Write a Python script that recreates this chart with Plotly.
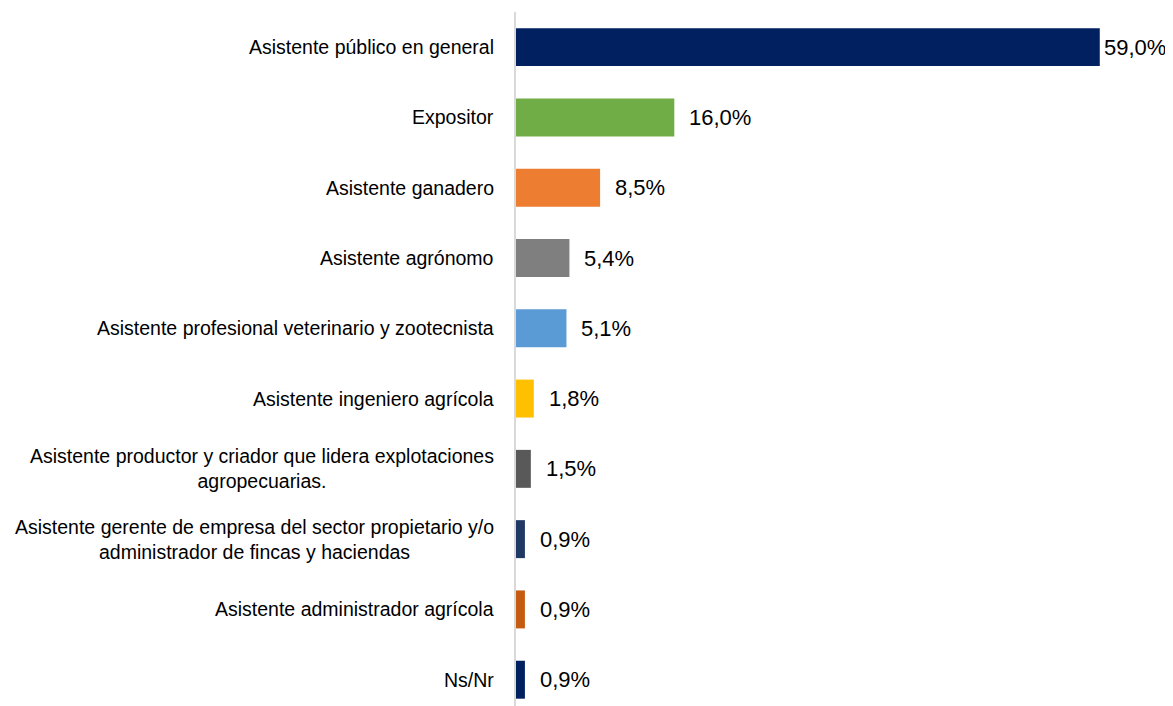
import plotly.graph_objects as go

categories = [
    "Asistente público en general",
    "Expositor",
    "Asistente ganadero",
    "Asistente agrónomo",
    "Asistente profesional veterinario y zootecnista",
    "Asistente ingeniero agrícola",
    "Asistente productor y criador que lidera explotaciones<br>agropecuarias.",
    "Asistente gerente de empresa del sector propietario y/o<br>administrador de fincas y haciendas",
    "Asistente administrador agrícola",
    "Ns/Nr",
]
values = [59.0, 16.0, 8.5, 5.4, 5.1, 1.8, 1.5, 0.9, 0.9, 0.9]
value_labels = ["59,0%", "16,0%", "8,5%", "5,4%", "5,1%", "1,8%", "1,5%", "0,9%", "0,9%", "0,9%"]
colors = ["#002060", "#70AD47", "#ED7D31", "#7F7F7F", "#5B9BD5",
          "#FFC000", "#595959", "#203864", "#C55A11", "#002060"]

FONT = "Liberation Sans, Arial, sans-serif"

ids = list(range(len(categories)))

fig = go.Figure()
fig.add_trace(go.Bar(
    x=values, y=ids, orientation="h",
    marker=dict(color=colors, line=dict(width=0)),
    width=0.54, hoverinfo="skip",
))

annotations = []
for i, (cat, v, lab) in enumerate(zip(categories, values, value_labels)):
    annotations.append(dict(
        x=0, y=i, xref="x", yref="y", text=cat, showarrow=False,
        xanchor="right", yanchor="middle", align="center", xshift=-20,
        font=dict(family=FONT, size=19.5, color="#000000"),
    ))
    annotations.append(dict(
        x=v, y=i, xref="x", yref="y", text=lab, showarrow=False,
        xanchor="left", yanchor="middle", xshift=13 if v < 50 else 2,
        font=dict(family=FONT, size=22, color="#000000"),
    ))

# page body has an 8px margin, so the figure is drawn 8px smaller/offset
fig.update_layout(
    width=1165, height=698,
    margin=dict(l=508, r=0, t=4, b=0),
    paper_bgcolor="white", plot_bgcolor="white",
    showlegend=False,
    annotations=annotations,
    xaxis=dict(range=[0, 66.4], visible=False, fixedrange=True),
    yaxis=dict(range=[9.374, -0.5], showticklabels=False, showgrid=False,
               zeroline=False, showline=True, linecolor="#D9D9D9", linewidth=2,
               ticks="", fixedrange=True),
)

fig.write_html("out.html")
